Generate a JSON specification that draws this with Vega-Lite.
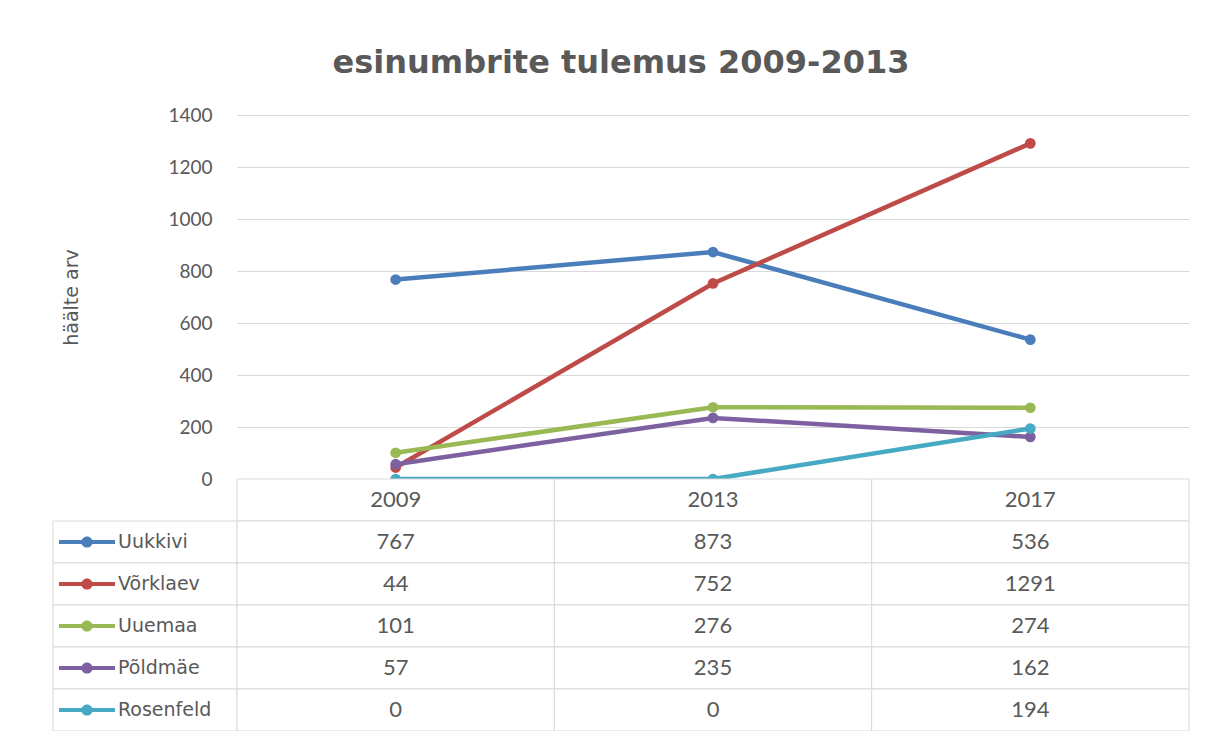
{
  "$schema": "https://vega.github.io/schema/vega-lite/v6.json",
  "background": "white",
  "padding": {"left": 52, "top": 47, "right": 14, "bottom": 0},
  "title": {"text": "esinumbrite tulemus 2009-2013", "font": "DejaVu Sans", "fontSize": 32, "fontWeight": "bold", "color": "#595959", "anchor": "middle", "offset": 26},
  "config": {"view": {"stroke": null}},
  "datasets": {
    "votes": [
      {"series": "Uukkivi", "year": "2009", "votes": 767},
      {"series": "Uukkivi", "year": "2013", "votes": 873},
      {"series": "Uukkivi", "year": "2017", "votes": 536},
      {"series": "Võrklaev", "year": "2009", "votes": 44},
      {"series": "Võrklaev", "year": "2013", "votes": 752},
      {"series": "Võrklaev", "year": "2017", "votes": 1291},
      {"series": "Uuemaa", "year": "2009", "votes": 101},
      {"series": "Uuemaa", "year": "2013", "votes": 276},
      {"series": "Uuemaa", "year": "2017", "votes": 274},
      {"series": "Põldmäe", "year": "2009", "votes": 57},
      {"series": "Põldmäe", "year": "2013", "votes": 235},
      {"series": "Põldmäe", "year": "2017", "votes": 162},
      {"series": "Rosenfeld", "year": "2009", "votes": 0},
      {"series": "Rosenfeld", "year": "2013", "votes": 0},
      {"series": "Rosenfeld", "year": "2017", "votes": 194}
    ]
  },
  "columns": 2,
  "spacing": 0,
  "bounds": "flush",
  "align": "each",
  "concat": [
    {
      "width": 184, "height": 364,
      "data": {"values": [{}]},
      "mark": {"type": "point", "opacity": 0}
    },
    {
      "width": 952, "height": 364,
      "data": {"name": "votes"},
      "encoding": {
        "x": {"field": "year", "type": "ordinal", "scale": {"type": "point", "padding": 0.5}, "axis": null},
        "y": {"field": "votes", "type": "quantitative", "scale": {"domain": [0, 1400], "nice": false},
          "axis": {"values": [0, 200, 400, 600, 800, 1000, 1200, 1400], "format": "d", "title": "häälte arv", "grid": true, "gridColor": "#d9d9d9", "gridWidth": 1, "domain": false, "ticks": false, "labelPadding": 25, "labelFont": "Lato", "labelFontSize": 19, "labelColor": "#595959", "titleFont": "DejaVu Sans", "titleFontSize": 19, "titleColor": "#595959", "titleFontWeight": "normal", "titlePadding": 86}},
        "color": {"field": "series", "type": "nominal", "legend": null,
          "scale": {"domain": ["Uukkivi", "Võrklaev", "Uuemaa", "Põldmäe", "Rosenfeld"], "range": ["#4A7EBB", "#BE4B48", "#98B954", "#7D60A0", "#46AAC5"]}}
      },
      "layer": [
        {"mark": {"type": "line", "strokeWidth": 4.5, "strokeCap": "round"}},
        {"mark": {"type": "point", "filled": true, "size": 115, "opacity": 1}}
      ]
    },
    {
      "width": 184, "height": 252,
      "data": {"name": "votes"},
      "transform": [{"aggregate": [{"op": "count", "as": "n"}], "groupby": ["series"]}],
      "encoding": {
        "y": {"field": "series", "type": "nominal", "axis": null,
          "scale": {"type": "band", "domain": ["header", "Uukkivi", "Võrklaev", "Uuemaa", "Põldmäe", "Rosenfeld"], "paddingInner": 0, "paddingOuter": 0}}
      },
      "layer": [
        {"mark": {"type": "rect", "fill": "white", "stroke": "#d9d9d9", "strokeWidth": 1}},
        {"mark": {"type": "point", "shape": "M-1,-0.07L1,-0.07L1,0.07L-1,0.07Z M0.2,0A0.2,0.2,0,1,1,-0.2,0A0.2,0.2,0,1,1,0.2,0Z", "size": 3136, "filled": true, "opacity": 1, "strokeWidth": 0},
          "encoding": {
            "x": {"datum": "sym", "type": "ordinal", "scale": {"type": "point", "domain": ["sym", "lab"], "range": [34, 65], "padding": 0}, "axis": null},
            "color": {"field": "series", "type": "nominal", "legend": null,
              "scale": {"domain": ["Uukkivi", "Võrklaev", "Uuemaa", "Põldmäe", "Rosenfeld"], "range": ["#4A7EBB", "#BE4B48", "#98B954", "#7D60A0", "#46AAC5"]}}
          }},
        {"mark": {"type": "text", "align": "left", "baseline": "middle", "font": "DejaVu Sans", "fontSize": 19, "color": "#595959"},
          "encoding": {
            "x": {"datum": "lab", "type": "ordinal", "scale": {"type": "point", "domain": ["sym", "lab"], "range": [34, 65], "padding": 0}, "axis": null},
            "text": {"field": "series"}
          }}
      ]
    },
    {
      "width": 952, "height": 252,
      "data": {"name": "votes"},
      "encoding": {
        "x": {"field": "year", "type": "ordinal", "axis": null, "scale": {"type": "band", "paddingInner": 0, "paddingOuter": 0}}
      },
      "layer": [
        {
          "transform": [{"aggregate": [{"op": "count", "as": "n"}], "groupby": ["year"]}],
          "mark": {"type": "rect", "fill": "white", "stroke": "#d9d9d9", "strokeWidth": 1},
          "encoding": {"y": {"datum": "header", "type": "nominal", "axis": null,
            "scale": {"type": "band", "domain": ["header", "Uukkivi", "Võrklaev", "Uuemaa", "Põldmäe", "Rosenfeld"], "paddingInner": 0, "paddingOuter": 0}}}
        },
        {
          "transform": [{"aggregate": [{"op": "count", "as": "n"}], "groupby": ["year"]}],
          "mark": {"type": "text", "align": "center", "baseline": "middle", "font": "Lato", "fontSize": 22, "color": "#595959"},
          "encoding": {
            "x": {"field": "year", "type": "ordinal", "bandPosition": 0.5, "axis": null},
            "y": {"datum": "header", "type": "nominal", "bandPosition": 0.5, "axis": null},
            "text": {"field": "year"}
          }
        },
        {
          "mark": {"type": "rect", "fill": "white", "stroke": "#d9d9d9", "strokeWidth": 1},
          "encoding": {"y": {"field": "series", "type": "nominal", "axis": null}}
        },
        {
          "mark": {"type": "text", "align": "center", "baseline": "middle", "font": "Lato", "fontSize": 22, "color": "#595959"},
          "encoding": {
            "x": {"field": "year", "type": "ordinal", "bandPosition": 0.5, "axis": null},
            "y": {"field": "series", "type": "nominal", "bandPosition": 0.5, "axis": null},
            "text": {"field": "votes"}
          }
        }
      ]
    }
  ]
}
